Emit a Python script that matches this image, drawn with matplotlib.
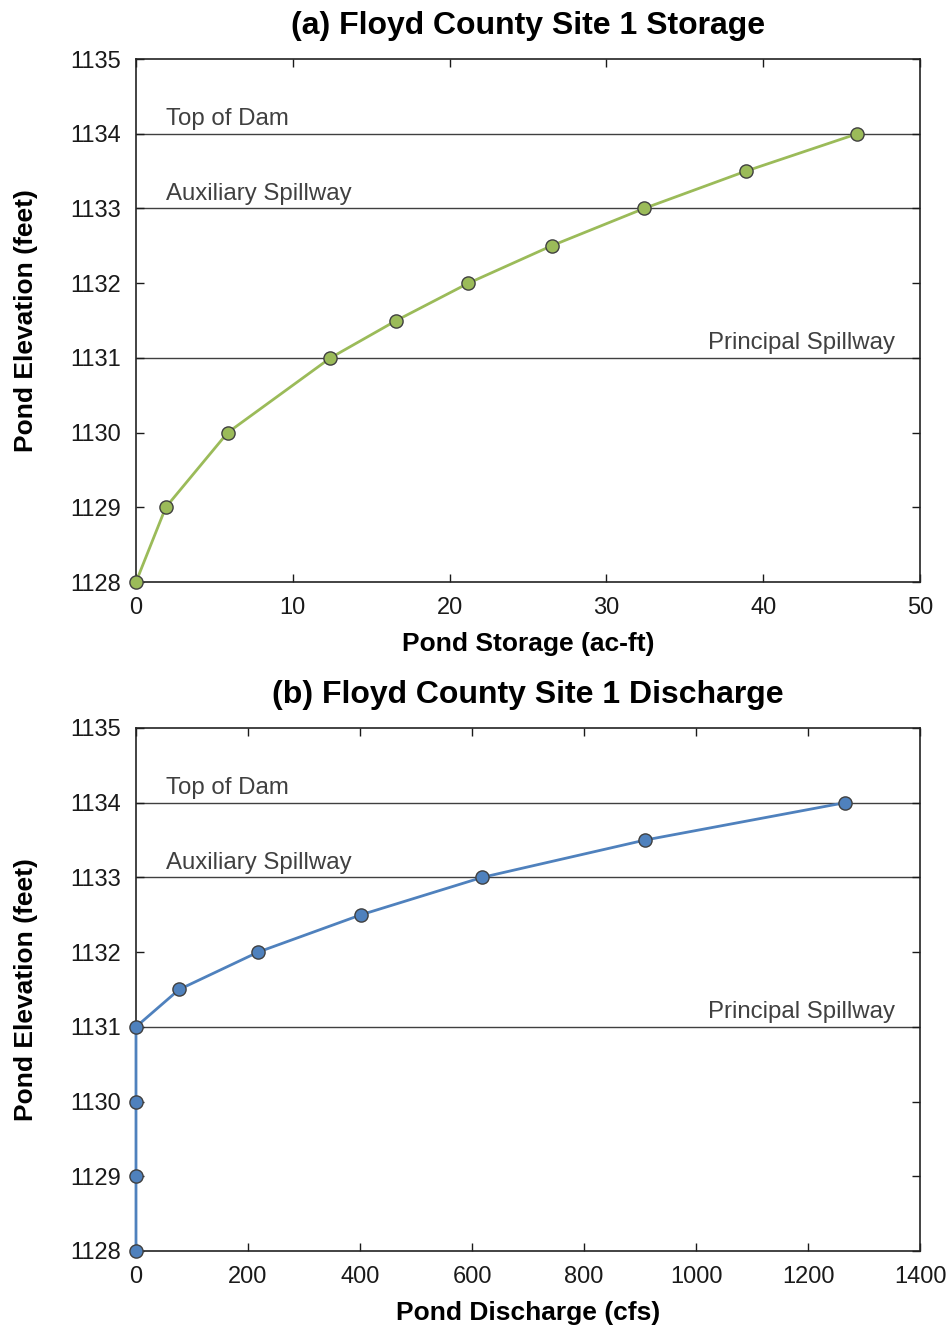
import matplotlib
matplotlib.use("Agg")
import matplotlib.pyplot as plt

plt.rcParams['font.family'] = ['Liberation Sans', 'DejaVu Sans']

elev_storage = [1128, 1129, 1130, 1131, 1131.5, 1132, 1132.5, 1133, 1133.5, 1134]
storage = [0, 1.9, 5.85, 12.4, 16.6, 21.2, 26.5, 32.4, 38.9, 46.0]

elev_discharge = [1128, 1129, 1130, 1131, 1131.5, 1132, 1132.5, 1133, 1133.5, 1134]
discharge = [0, 0, 0, 0, 77, 218, 402, 618, 909, 1266]

levels = [1134, 1133, 1131]
level_names = ["Top of Dam", "Auxiliary Spillway", "Principal Spillway"]

fig = plt.figure(figsize=(9.53, 13.27), dpi=100)
ax1 = fig.add_axes([0.1427, 0.5614, 0.8227, 0.3941])
ax2 = fig.add_axes([0.1427, 0.0573, 0.8227, 0.3941])

def style(ax, xmax, xstep, title, xlabel, color, xs, ys):
    for lv in levels:
        ax.axhline(lv, color='#404040', lw=1.0, zorder=1)
    ax.plot(xs, ys, color=color, lw=2, marker='o', markersize=9.5,
            markerfacecolor=color, markeredgecolor='#404040', markeredgewidth=1.0,
            zorder=3, clip_on=False)
    ax.set_xlim(0, xmax)
    ax.set_ylim(1128, 1135)
    ax.set_xticks(range(0, xmax + 1, xstep))
    ax.set_yticks(range(1128, 1136))
    ax.tick_params(direction='in', top=True, right=True, length=6, width=1,
                   labelsize=17, colors='#1a1a1a')
    ax.tick_params(axis='x', pad=11)
    ax.tick_params(axis='y', pad=11)
    for s in ax.spines.values():
        s.set_linewidth(1.2)
        s.set_color('#222222')
    ax.set_title(title, fontsize=23, fontweight='bold', pad=18)
    ax.set_xlabel(xlabel, fontsize=19, fontweight='bold', labelpad=9)
    ax.set_ylabel("Pond Elevation (feet)", fontsize=19, fontweight='bold', labelpad=23)
    tr = ax.get_yaxis_transform()
    ax.text(0.038, 1134.05, level_names[0], transform=tr, fontsize=17.3,
            color='#404040', va='bottom', ha='left')
    ax.text(0.038, 1133.05, level_names[1], transform=tr, fontsize=17.3,
            color='#404040', va='bottom', ha='left')
    ax.text(0.968, 1131.05, level_names[2], transform=tr, fontsize=17.3,
            color='#404040', va='bottom', ha='right')

style(ax1, 50, 10, "(a) Floyd County Site 1 Storage", "Pond Storage (ac-ft)",
      '#9BBB59', storage, elev_storage)
style(ax2, 1400, 200, "(b) Floyd County Site 1 Discharge", "Pond Discharge (cfs)",
      '#4F81BD', discharge, elev_discharge)

fig.savefig("out.png", dpi=100)
